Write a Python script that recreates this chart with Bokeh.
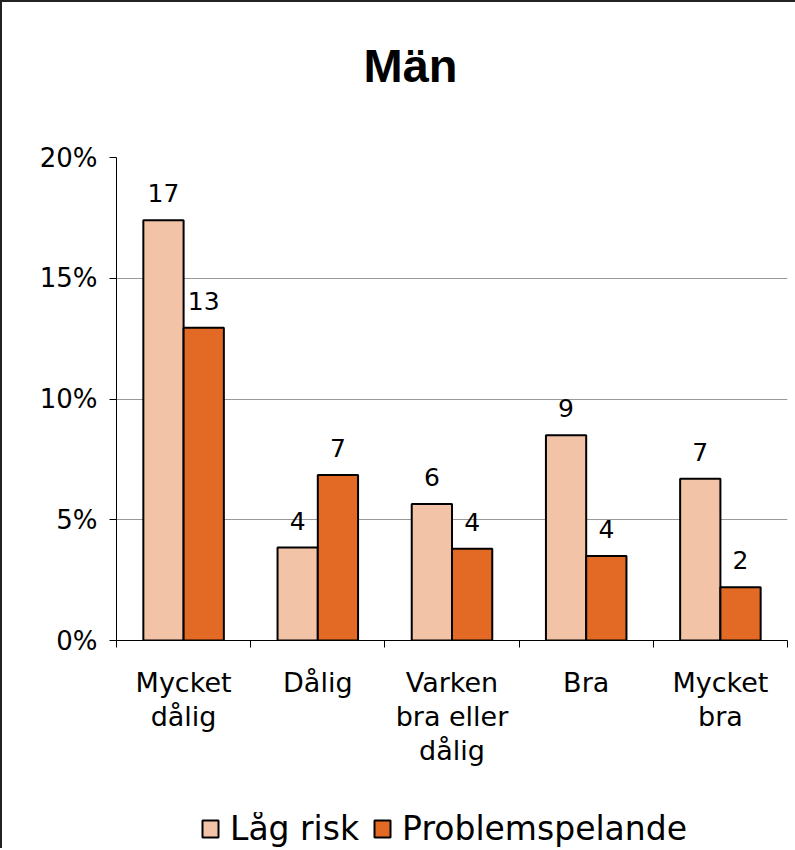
from bokeh.plotting import figure
from bokeh.layouts import column
from bokeh.models import (ColumnDataSource, FixedTicker, PrintfTickFormatter, Range1d,
                          Legend, LegendItem, Label)
from bokeh.core.properties import value
from bokeh.embed import file_html
from bokeh.resources import INLINE

title_text = "Män"
categories = ["Mycket\ndålig", "Dålig", "Varken\nbra eller\ndålig", "Bra", "Mycket\nbra"]
low_risk = [17.4, 3.85, 5.65, 8.5, 6.7]
problem = [12.95, 6.85, 3.8, 3.5, 2.2]
low_risk_labels = ["17", "4", "6", "9", "7"]
problem_labels = ["13", "7", "4", "4", "2"]
y_ticks = [0, 5, 10, 15, 20]
series_names = ["Låg risk", "Problemspelande"]

PINK = "#F2C3A7"
ORANGE = "#E26A25"
FONT = "DejaVu Sans"
W = 793

n = len(categories)
centers = [i + 0.5 for i in range(n)]


def bare(height, **kw):
    f = figure(width=W, height=height, output_backend="svg", toolbar_location=None,
               x_axis_location=None, y_axis_location=None,
               background_fill_color="white", border_fill_color="white",
               outline_line_color=None, **kw)
    f.xgrid.grid_line_color = None
    f.ygrid.grid_line_color = None
    return f


# title strip
p0 = bare(100, x_range=Range1d(0, 1), y_range=Range1d(0, 1),
          min_border_left=0, min_border_right=0, min_border_top=0, min_border_bottom=0)
p0.add_layout(Label(x=294, y=37, x_units="screen", y_units="screen", text=title_text,
                    text_font="Liberation Sans", text_font_style="bold",
                    text_font_size="47px", text_color="black",
                    text_align="center", text_baseline="alphabetic"))

# main chart
p = figure(width=W, height=688, output_backend="svg", toolbar_location=None,
           x_range=Range1d(0, n), y_range=Range1d(0, 20),
           min_border_left=114, min_border_right=8, min_border_top=55,
           min_border_bottom=150, background_fill_color="white",
           border_fill_color="white", outline_line_color=None)

src_low = ColumnDataSource(dict(x=[c - 0.15 for c in centers], top=low_risk, lab=low_risk_labels))
src_prob = ColumnDataSource(dict(x=[c + 0.15 for c in centers], top=problem, lab=problem_labels))

p.vbar(x="x", top="top", width=0.3, source=src_low, fill_color=PINK,
       line_color="black", line_width=2)
p.vbar(x="x", top="top", width=0.3, source=src_prob, fill_color=ORANGE,
       line_color="black", line_width=2)

for src in (src_low, src_prob):
    p.text(x="x", y="top", text="lab", source=src, y_offset=-18,
           text_align="center", text_baseline="bottom",
           text_font=value(FONT), text_font_size="25px", text_color="black")

yax = p.yaxis[0]
yax.ticker = FixedTicker(ticks=y_ticks)
yax.formatter = PrintfTickFormatter(format="%d%%")
yax.major_label_text_font = FONT
yax.major_label_text_font_size = "26px"
yax.major_label_text_color = "black"
yax.major_tick_out = 7
yax.major_tick_in = 0
yax.minor_tick_line_color = None
yax.axis_line_color = "black"
yax.major_label_standoff = 12

xax = p.xaxis[0]
xax.ticker = FixedTicker(ticks=centers, minor_ticks=list(range(n + 1)))
xax.major_label_overrides = {c: lab for c, lab in zip(centers, categories)}
xax.major_tick_line_color = None
xax.major_tick_out = 7
xax.minor_tick_out = 7
xax.minor_tick_in = 0
xax.minor_tick_line_color = "black"
xax.axis_line_color = "black"
xax.major_label_text_font = FONT
xax.major_label_text_font_size = "27px"
xax.major_label_text_color = "black"
xax.major_label_text_line_height = 1.1
xax.major_label_standoff = 19

p.xgrid.grid_line_color = None
p.ygrid.ticker = FixedTicker(ticks=[5, 10, 15, 20])
p.ygrid.grid_line_color = "#999999"
p.ygrid.grid_line_width = 1

# legend strip (legend glyph sources are the same data, renderers hidden)
p2 = bare(58, x_range=Range1d(0, n), y_range=Range1d(0, 20),
          min_border_left=102, min_border_right=0, min_border_top=22, min_border_bottom=0)
d1 = p2.vbar(x="x", top="top", width=0.3, source=src_low, fill_color=PINK,
             line_color="black", line_width=2)
d2 = p2.vbar(x="x", top="top", width=0.3, source=src_prob, fill_color=ORANGE,
             line_color="black", line_width=2)
d1.visible = False
d2.visible = False
legend = Legend(items=[LegendItem(label=series_names[0], renderers=[d1]),
                       LegendItem(label=series_names[1], renderers=[d2])],
                orientation="horizontal", location=(84, 0),
                label_text_font=FONT, label_text_font_size="33px",
                label_text_color="black",
                glyph_width=20, glyph_height=21, label_standoff=10, spacing=13,
                border_line_color=None, background_fill_alpha=0,
                margin=0, padding=0)
p2.add_layout(legend)

layout = column(p0, p, p2, spacing=0,
                styles={"border-left": "2px solid #222", "border-top": "2px solid #222"})

open("out.html", "w").write(file_html(layout, INLINE))
